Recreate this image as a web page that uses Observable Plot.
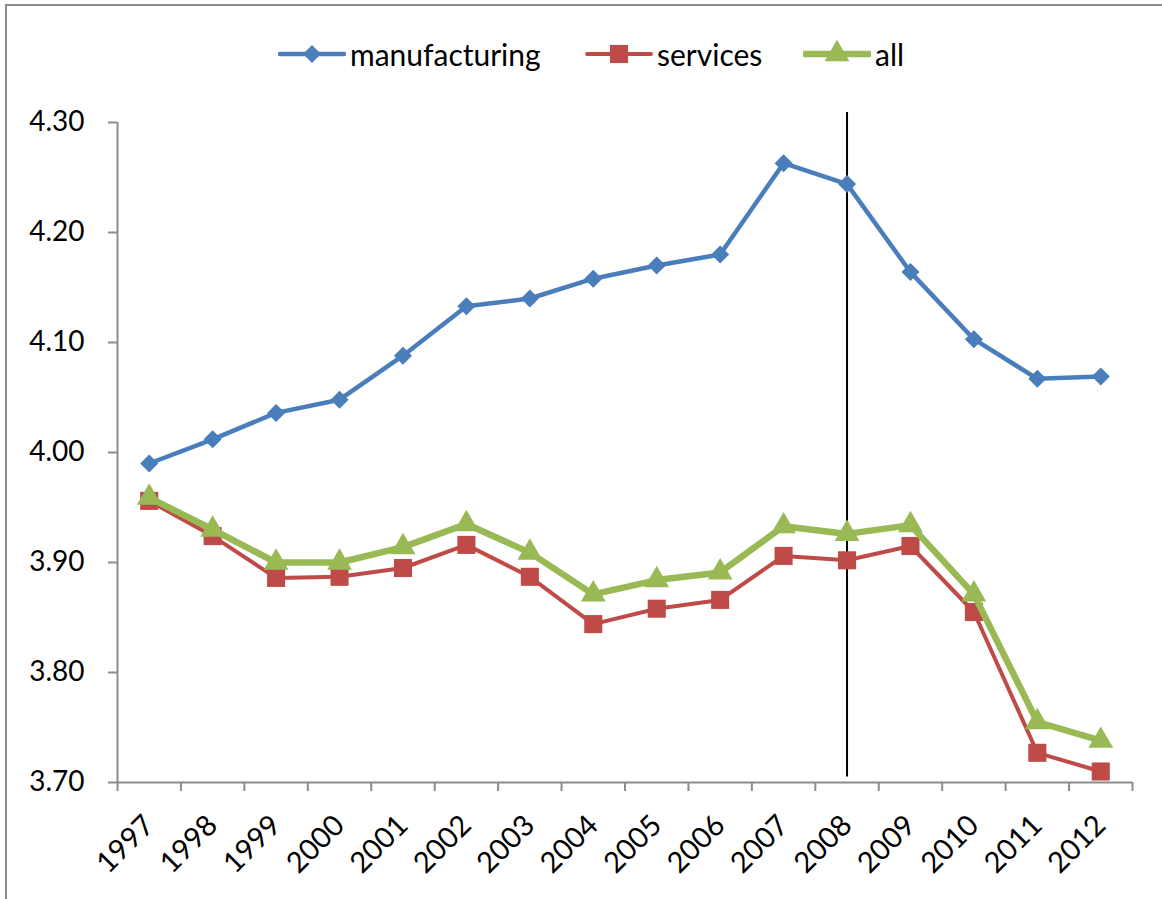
<!DOCTYPE html>
<html><head><meta charset="utf-8">
<script src="https://cdn.jsdelivr.net/npm/d3@7"></script>
<script src="https://cdn.jsdelivr.net/npm/@observablehq/plot@0.6"></script>
<style>
body{margin:0;background:#fff;font-family:Lato,sans-serif;}
#wrap{position:relative;width:1162px;height:899px;overflow:hidden;background:#fff}
#frame{position:absolute;left:5px;top:4px;width:1300px;height:1100px;border-top:2px solid #8c8c8c;border-left:2px solid #8c8c8c;pointer-events:none}
#chart{position:absolute;left:0;top:0}
.leg{position:absolute;top:34px;height:40px;display:flex;align-items:center;font-size:30px;color:#000;white-space:nowrap}
.leg svg{margin-right:4px}
</style></head>
<body>
<div id="wrap"><div id="chart"></div><div id="frame"></div></div>
<script>
const years = [1997,1998,1999,2000,2001,2002,2003,2004,2005,2006,2007,2008,2009,2010,2011,2012];
const manufacturing = [3.990,4.012,4.036,4.048,4.088,4.133,4.140,4.158,4.170,4.180,4.263,4.244,4.164,4.103,4.067,4.069];
const services = [3.956,3.924,3.886,3.887,3.895,3.916,3.887,3.844,3.858,3.866,3.906,3.902,3.915,3.855,3.727,3.710];
const all = [3.959,3.930,3.900,3.900,3.914,3.935,3.909,3.871,3.884,3.891,3.933,3.926,3.934,3.871,3.755,3.738];
const seriesNames = ["manufacturing","services","all"];
const yTicks = [3.70,3.80,3.90,4.00,4.10,4.20,4.30];
const markerYear = 2008;
const markerExtent = [3.705, 4.309];

const seriesValues = [manufacturing, services, all];
const styles = [
  {color:"#4A7EBB", symbol:"square", rotate:45, r:7.2, width:4.5},
  {color:"#BE4B48", symbol:"square", rotate:0, r:10.2, width:4},
  {color:"#98B954", symbol:"triangle", rotate:0, r:9.2, width:6.5}
];
const data = seriesNames.map((name,i)=>years.map((yr,j)=>({series:name, year:yr, value:seriesValues[i][j]})));
const boundaries = years.map(y=>y-0.5).concat([years[years.length-1]+0.5]);

const marks = [
  Plot.axisY({ticks:yTicks, tickFormat:d3.format(".2f"), tickSize:9, tickPadding:24, stroke:"#8c8c8c", strokeWidth:2, fontSize:28, label:null}),
  Plot.axisX({ticks:boundaries, tickFormat:()=>"", tickSize:9, stroke:"#8c8c8c", strokeWidth:2, label:null}),
  Plot.axisX({ticks:years, tickFormat:d=>String(d), tickSize:0, tickRotate:-45, tickPadding:38, fontSize:29, label:null}),
  Plot.ruleX([boundaries[0]], {stroke:"#8c8c8c", strokeWidth:2}),
  Plot.ruleY([yTicks[0]], {stroke:"#8c8c8c", strokeWidth:2}),
];
marks.push(Plot.ruleX([markerYear], {y1:markerExtent[0], y2:markerExtent[1], stroke:"#000", strokeWidth:2}));
seriesNames.forEach((name,i)=>{
  const s = styles[i];
  marks.push(Plot.line(data[i], {x:"year", y:"value", stroke:s.color, strokeWidth:s.width, strokeLinejoin:"round"}));
  marks.push(Plot.dot(data[i], {x:"year", y:"value", symbol:s.symbol, fill:s.color, r:s.r, rotate:s.rotate, stroke:"none"}));
});

const chart = Plot.plot({
  width:1162, height:899,
  marginTop:122, marginBottom:117, marginLeft:117, marginRight:30,
  style:{fontFamily:"Lato, sans-serif", fontSize:"28px", color:"#000", background:"transparent", overflow:"visible"},
  x:{type:"linear", domain:[boundaries[0], boundaries[boundaries.length-1]], label:null},
  y:{domain:[yTicks[0], yTicks[yTicks.length-1]], label:null},
  marks
});
document.getElementById("chart").appendChild(chart);

// legend
const legLeft = [278, 585, 803];
const wrap = document.getElementById("wrap");
seriesNames.forEach((name,i)=>{
  const s = styles[i];
  const div = document.createElement("div");
  div.className = "leg";
  div.style.left = legLeft[i]+"px";
  const w = 68, h = 40;
  const sym = d3.symbol(s.symbol==="triangle"?d3.symbolTriangle:d3.symbolSquare, Math.PI*s.r*s.r)();
  div.innerHTML = `<svg width="${w}" height="${h}"><line x1="2" x2="${w-2}" y1="${h/2}" y2="${h/2}" stroke="${s.color}" stroke-width="${s.width}" stroke-linecap="round"/><path d="${sym}" fill="${s.color}" transform="translate(${w/2},${h/2}) rotate(${s.rotate})"/></svg><span>${name}</span>`;
  wrap.appendChild(div);
});
</script>
</body></html>
